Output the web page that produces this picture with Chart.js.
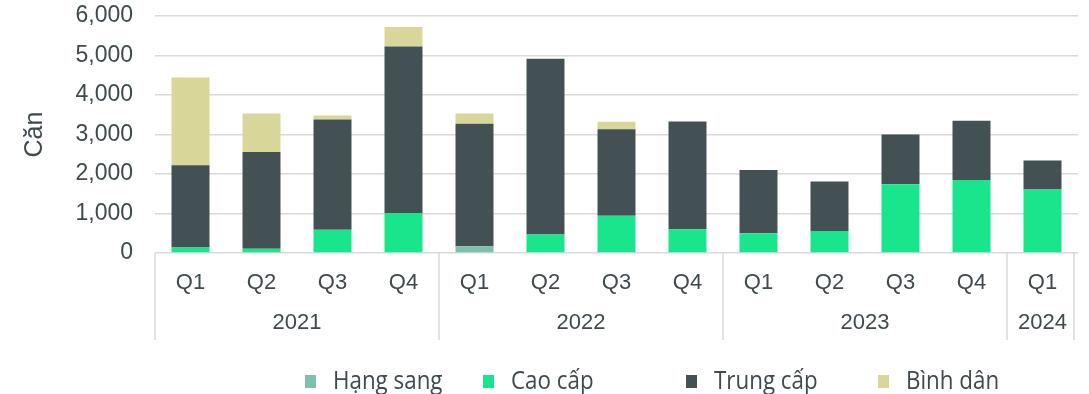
<!DOCTYPE html>
<html lang="vi">
<head>
<meta charset="utf-8">
<script src="https://cdn.jsdelivr.net/npm/chart.js@4.4.1/dist/chart.umd.min.js"></script>
<style>
  html, body { margin: 0; padding: 0; background: #fff; }
  #wrap { position: relative; width: 1089px; height: 394px; overflow: hidden; }
  #legend { position: absolute; left: 0; top: 0; width: 1089px; height: 394px; pointer-events: none;
            font-family: "Open Sans", sans-serif; font-size: 26px; color: #3f4a4e; }
  #legend .box { position: absolute; top: 375px; width: 11px; height: 13px; }
  #legend .name { position: absolute; top: 364px; line-height: 30px; white-space: nowrap;
                  transform: scaleX(0.86); transform-origin: left center; }
</style>
</head>
<body>
<div id="wrap">
  <canvas id="chart" width="1089" height="394"></canvas>
  <div id="legend"></div>
</div>
<script>
const quarters = ['Q1', 'Q2', 'Q3', 'Q4', 'Q1', 'Q2', 'Q3', 'Q4', 'Q1', 'Q2', 'Q3', 'Q4', 'Q1'];
const years = ['2021', '2022', '2023', '2024'];
const quartersPerYear = [4, 4, 4, 1];

const hangSang = [0, 0, 0, 0, 170, 0, 0, 0, 0, 0, 0, 0, 0];
const caoCap   = [140, 110, 590, 1010, 0, 470, 940, 600, 500, 560, 1740, 1850, 1610];
const trungCap = [2080, 2450, 2790, 4220, 3100, 4450, 2190, 2730, 1600, 1250, 1260, 1500, 730];
const binhDan  = [2220, 970, 100, 490, 260, 0, 190, 0, 0, 0, 0, 0, 0];

const seriesNames = ['Hạng sang', 'Cao cấp', 'Trung cấp', 'Bình dân'];
const seriesColors = ['#80bfad', '#19e68c', '#435155', '#d9d69a'];
const legendLeft = [305, 483, 686, 878];

const textColor = '#3f4a4e';
const gridColor = '#d9d9d9';
const axisFont = '"Liberation Sans", Arial, sans-serif';

// year row under the quarter labels, with the group dividers
const yearAxis = {
  id: 'yearAxis',
  afterDraw(chart) {
    const { ctx, scales: { x } } = chart;
    const half = (x.getPixelForValue(1) - x.getPixelForValue(0)) / 2;
    const top = x.top;
    const bottom = x.bottom;
    ctx.save();
    ctx.strokeStyle = gridColor;
    ctx.lineWidth = 1.5;
    ctx.fillStyle = textColor;
    ctx.font = '22px ' + axisFont;
    ctx.textAlign = 'center';
    ctx.textBaseline = 'middle';
    let start = 0;
    years.forEach((yr, i) => {
      const end = start + quartersPerYear[i];
      const left = x.getPixelForValue(start) - half;
      const right = x.getPixelForValue(end - 1) + half;
      ctx.beginPath();
      ctx.moveTo(left, top);
      ctx.lineTo(left, bottom);
      if (i === years.length - 1) {
        ctx.moveTo(right - 4, top);
        ctx.lineTo(right - 4, bottom);
      }
      ctx.stroke();
      ctx.fillText(yr, (left + right) / 2, top + 70);
      start = end;
    });
    ctx.restore();
  }
};

const datasets = [hangSang, caoCap, trungCap, binhDan].map((values, i) => ({
  label: seriesNames[i],
  data: values,
  backgroundColor: seriesColors[i],
  borderWidth: 0,
  barPercentage: 1,
  categoryPercentage: 0.535
}));

new Chart(document.getElementById('chart'), {
  type: 'bar',
  data: { labels: quarters, datasets: datasets },
  plugins: [yearAxis],
  options: {
    responsive: false,
    animation: false,
    devicePixelRatio: 1,
    layout: { padding: { top: 16, right: 11, bottom: 54, left: 0 } },
    plugins: {
      legend: { display: false },
      tooltip: { enabled: false }
    },
    scales: {
      x: {
        stacked: true,
        grid: { display: false },
        border: { display: false },
        ticks: {
          color: textColor,
          font: { family: axisFont, size: 22 },
          padding: 9,
          maxRotation: 0
        },
        afterFit(scale) { scale.height = 87; }
      },
      y: {
        stacked: true,
        min: 0,
        max: 6000,
        grid: { color: gridColor, lineWidth: 1.5, drawTicks: false },
        border: { display: false },
        ticks: {
          stepSize: 1000,
          color: textColor,
          padding: 22,
          font: { family: axisFont, size: 23 },
          callback: v => v.toLocaleString('en-US')
        },
        title: {
          display: true,
          text: 'Căn',
          color: textColor,
          font: { family: axisFont, size: 25 },
          padding: { top: 20, bottom: 0 }
        },
        afterFit(scale) {
          scale.width = 155;
          scale.paddingTop = 0;
          scale.paddingBottom = 0;
        }
      }
    }
  }
});

// legend: coloured square followed by the series name
const legend = document.getElementById('legend');
seriesNames.forEach((name, i) => {
  const box = document.createElement('span');
  box.className = 'box';
  box.style.left = legendLeft[i] + 'px';
  box.style.background = seriesColors[i];
  const label = document.createElement('span');
  label.className = 'name';
  label.style.left = (legendLeft[i] + 28) + 'px';
  label.textContent = name;
  legend.appendChild(box);
  legend.appendChild(label);
});
</script>
</body>
</html>
